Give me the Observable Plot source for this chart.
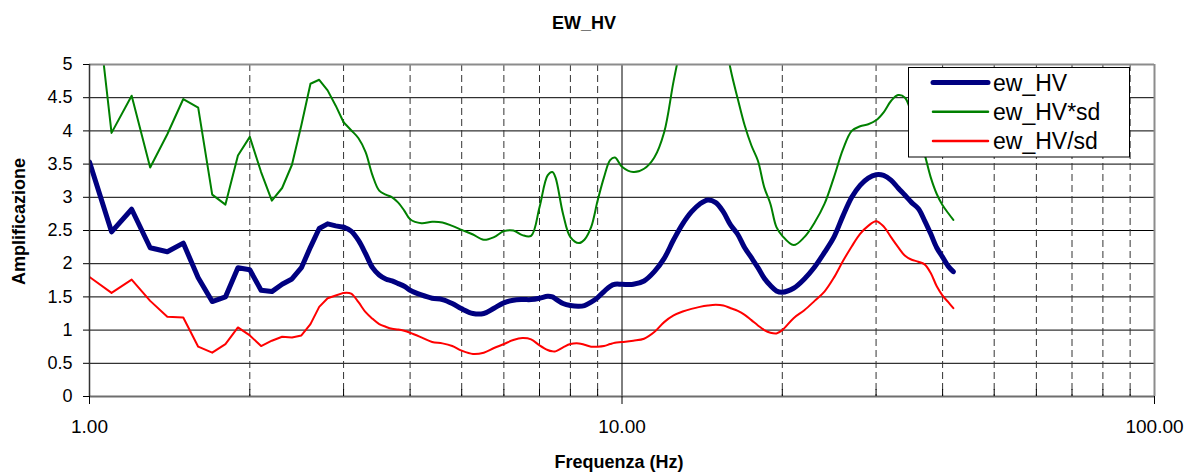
<!DOCTYPE html>
<html>
<head>
<meta charset="utf-8">
<script src="https://cdn.jsdelivr.net/npm/d3@7"></script>
<script src="https://cdn.jsdelivr.net/npm/@observablehq/plot@0.6"></script>
<style>
  body { margin: 0; background: #fff; font-family: Arial, "Liberation Sans", sans-serif; }
  #wrap { position: relative; width: 1195px; height: 472px; overflow: hidden; }
  #title { position: absolute; top: 0; left: 0; width: 1195px; height: 40px; }
  #title span { position: absolute; left: 584px; top: 12.7px; transform: translateX(-50%); font-weight: bold; font-size: 18px; white-space: nowrap; }
  #chart { position: absolute; top: 40px; left: 0; }
  #legend { position: absolute; left: 908px; top: 67px; }
</style>
</head>
<body>
<div id="wrap">
  <div id="title"><span></span></div>
  <div id="chart"></div>
  <div id="legend"></div>
</div>
<script>
const chartTitle = "EW_HV";
const xTitle = "Frequenza (Hz)";
const yTitle = "Amplificazione";
const seriesNames = ["ew_HV", "ew_HV*sd", "ew_HV/sd"];
const seriesColors = ["#000080", "#008000", "#ff0000"];
const seriesWidths = [5, 2, 2];

const xMajor = [1, 10, 100];
const xMinor = [2, 3, 4, 5, 6, 7, 8, 9, 20, 30, 40, 50, 60, 70, 80, 90];
const yTicks = [0, 0.5, 1, 1.5, 2, 2.5, 3, 3.5, 4, 4.5, 5];
const yGrid = [0.5, 1, 1.5, 2, 2.5, 3, 3.5, 4, 4.5];

const freq = [1.0,1.1,1.2,1.3,1.4,1.5,1.6,1.7,1.8,1.9,
  2.0,2.1,2.2,2.3,2.4,2.5,2.6,2.7,2.8,2.9,
  3.0,3.1,3.2,3.3,3.4,3.5,3.6,3.7,3.8,3.9,
  4.0,4.2,4.4,4.6,4.8,
  5.0,5.25,5.5,5.75,
  6.0,6.25,6.5,6.75,
  7.0,7.25,7.4,7.5,7.75,
  8.0,8.3,8.5,8.75,
  9.0,9.25,9.5,9.7,
  10,10.5,11,11.5,12,12.5,13,13.5,14,14.5,15,15.5,16,16.5,17,17.5,18,18.5,19,19.5,
  20,21,22,23,24,25,26,27,28,29,30,31,32,33,34,35,36,37,38,39,40,41,41.9];

const ewHV = [3.53,2.48,2.82,2.24,2.18,2.31,1.79,1.43,1.50,1.94,
  1.91,1.60,1.58,1.69,1.77,1.94,2.25,2.53,2.60,2.57,
  2.55,2.49,2.35,2.15,1.94,1.83,1.77,1.74,1.70,1.66,
  1.60,1.53,1.48,1.46,1.40,
  1.32,1.25,1.25,1.33,
  1.41,1.45,1.46,1.46,
  1.48,1.51,1.50,1.47,1.40,
  1.37,1.36,1.37,1.42,
  1.49,1.58,1.66,1.69,
  1.69,1.69,1.74,1.88,2.08,2.36,2.60,2.78,2.90,2.96,2.92,2.78,2.58,2.44,2.24,2.09,1.94,1.78,1.67,1.59,
  1.57,1.63,1.77,1.95,2.17,2.40,2.72,3.00,3.18,3.29,3.34,3.33,3.26,3.14,3.03,2.92,2.83,2.65,2.45,2.24,2.10,1.96,1.88];

const ewHVsd = [6.9,3.97,4.53,3.45,3.95,4.48,4.35,3.04,2.89,3.63,
  3.91,3.38,2.95,3.14,3.49,4.09,4.71,4.77,4.61,4.38,
  4.13,4.01,3.89,3.68,3.33,3.10,3.04,3.00,2.92,2.80,
  2.67,2.61,2.63,2.62,2.57,
  2.51,2.44,2.36,2.40,
  2.49,2.50,2.43,2.42,
  2.85,3.33,3.38,3.30,2.75,
  2.40,2.31,2.36,2.55,
  2.95,3.30,3.56,3.60,
  3.46,3.38,3.43,3.60,3.98,4.75,5.4,5.9,6.2,6.4,6.1,5.55,4.92,4.48,4.08,3.78,3.55,3.15,2.90,2.55,
  2.42,2.28,2.40,2.62,2.90,3.30,3.72,4.00,4.07,4.10,4.16,4.28,4.45,4.54,4.50,4.25,3.95,3.65,3.30,3.05,2.88,2.76,2.66];

const ewHVdivsd = [1.80,1.56,1.76,1.44,1.20,1.19,0.75,0.66,0.79,1.04,
  0.92,0.76,0.84,0.90,0.89,0.92,1.09,1.35,1.48,1.52,
  1.56,1.55,1.42,1.27,1.17,1.09,1.05,1.02,1.01,0.99,
  0.96,0.89,0.82,0.80,0.76,
  0.69,0.64,0.66,0.73,
  0.79,0.85,0.88,0.86,
  0.77,0.70,0.68,0.68,0.74,
  0.79,0.80,0.78,0.75,
  0.75,0.76,0.79,0.81,
  0.82,0.84,0.87,0.97,1.12,1.22,1.28,1.32,1.35,1.37,1.38,1.37,1.33,1.29,1.23,1.15,1.07,1.00,0.96,0.95,
  1.00,1.18,1.30,1.44,1.58,1.79,2.04,2.26,2.45,2.57,2.64,2.56,2.40,2.25,2.12,2.06,2.03,1.99,1.86,1.66,1.52,1.42,1.33];

const seriesValues = [ewHV, ewHVsd, ewHVdivsd];
const rows = [];
seriesNames.forEach((name, s) => {
  freq.forEach((f, i) => rows.push({f, v: seriesValues[s][i], s: name}));
});

const SPLIT = 3.0;
const lineMarks = [];
seriesNames.forEach((name, s) => {
  const d = rows.filter(r => r.s === name);
  const common = {x: "f", y: "v", stroke: seriesColors[s], strokeWidth: seriesWidths[s],
    strokeLinejoin: "round", strokeLinecap: "round", clip: true};
  lineMarks.push(Plot.line(d.filter(r => r.f <= SPLIT), {...common, curve: "linear"}));
  lineMarks.push(Plot.line(d.filter(r => r.f >= SPLIT), {...common, curve: "catmull-rom"}));
});

document.querySelector("#title span").textContent = chartTitle;

const chart = Plot.plot({
  width: 1195,
  height: 432,
  marginTop: 24,
  marginBottom: 76,
  marginLeft: 89,
  marginRight: 41,
  style: {fontFamily: "Arial, 'Liberation Sans', sans-serif", color: "#000", background: "#fff", overflow: "visible"},
  x: {type: "log", domain: [1, 100]},
  y: {domain: [0, 5]},
  marks: [
    Plot.ruleY(yGrid, {stroke: "#000", strokeWidth: 1}),
    Plot.ruleX(xMinor, {stroke: "#333", strokeDasharray: "7,4", strokeWidth: 1}),
    Plot.ruleX([10], {stroke: "#000", strokeWidth: 1}),
    ...lineMarks,
    Plot.ruleY([5], {stroke: "#8c8c8c", strokeWidth: 2}),
    Plot.ruleX([100], {stroke: "#8c8c8c", strokeWidth: 2}),
    Plot.ruleY([0], {stroke: "#6e6e6e", strokeWidth: 2}),
    Plot.ruleX([1], {stroke: "#333", strokeWidth: 1.5}),
    Plot.axisY(yTicks, {tickSize: 6, tickPadding: 11, fontSize: 18, tickFormat: d => String(d), label: null}),
    Plot.axisX(xMajor, {tickSize: 8, tickPadding: 15, fontSize: 19, tickFormat: d3.format(".2f"), label: null}),
    Plot.axisX(xMinor, {tickSize: -7, tickFormat: () => "", label: null}),
    Plot.text([yTitle], {text: d => d, frameAnchor: "left", rotate: -90, dx: -70.5, dy: -9,
      fontSize: 18, fontWeight: "bold", textAnchor: "middle", lineAnchor: "middle", fill: "#000"}),
    Plot.text([xTitle], {text: d => d, frameAnchor: "bottom", dy: 66, dx: -3,
      fontSize: 18, fontWeight: "bold", textAnchor: "middle", lineAnchor: "middle", fill: "#000"})
  ]
});
document.getElementById("chart").appendChild(chart);

// legend
const lg = d3.select("#legend").append("svg").attr("width", 223).attr("height", 92);
lg.append("rect").attr("x", 0.5).attr("y", 0.5).attr("width", 221).attr("height", 89.5)
  .attr("fill", "#fff").attr("stroke", "#000").attr("stroke-width", 1);
seriesNames.forEach((name, i) => {
  const cy = 15.5 + i * 29.3;
  lg.append("line").attr("x1", 25).attr("x2", 80).attr("y1", cy).attr("y2", cy)
    .attr("stroke", seriesColors[i]).attr("stroke-width", seriesWidths[i] === 5 ? 5 : 2.5)
    .attr("stroke-linecap", "round");
  lg.append("text").attr("x", 85).attr("y", cy).attr("dy", "0.36em")
    .attr("font-family", "Arial, 'Liberation Sans', sans-serif").attr("font-size", 23)
    .attr("fill", "#000").text(name);
});
</script>
</body>
</html>
